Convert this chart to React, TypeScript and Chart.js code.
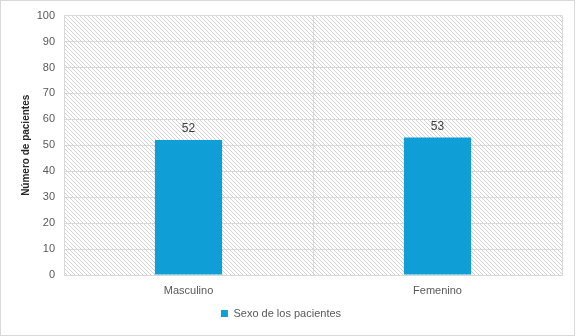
import React, { useEffect, useRef } from "react";
import { Chart, registerables } from "chart.js";

Chart.register(...registerables);

const categories = ["Masculino", "Femenino"];
const values = [52, 53];
const seriesName = "Sexo de los pacientes";
const yTitle = "Número de pacientes";
const yMin = 0;
const yMax = 100;
const yStep = 10;

const FONT = "'Liberation Sans', Arial, sans-serif";
const TEXT = "#595959";
const GRID = "#d9d9d9";
const BAR = "#109ed6";

function makePattern(ctx: CanvasRenderingContext2D) {
  const c = document.createElement("canvas");
  c.width = 4;
  c.height = 4;
  const p = c.getContext("2d")!;
  p.fillStyle = "#ffffff";
  p.fillRect(0, 0, 4, 4);
  p.fillStyle = "#d2d2d2";
  for (let i = 0; i < 4; i++) p.fillRect(i, i, 1, 1);
  return ctx.createPattern(c, "repeat")!;
}

const bgPlugin = {
  id: "bgPlugin",
  beforeDraw(chart: any) {
    const { ctx, chartArea, width, height } = chart;
    ctx.save();
    ctx.fillStyle = "#ffffff";
    ctx.fillRect(0, 0, width, height);
    ctx.strokeStyle = GRID;
    ctx.lineWidth = 1;
    ctx.strokeRect(0.5, 0.5, width - 2, height - 1);
    ctx.fillStyle = makePattern(ctx);
    ctx.fillRect(chartArea.left, chartArea.top, chartArea.right - chartArea.left, chartArea.bottom - chartArea.top);
    ctx.restore();
  },
  afterDraw(chart: any) {
    const { ctx, chartArea } = chart;
    ctx.save();
    ctx.translate(26, (chartArea.top + chartArea.bottom) / 2);
    ctx.rotate(-Math.PI / 2);
    ctx.fillStyle = "#262626";
    ctx.font = `bold 10px ${FONT}`;
    ctx.textAlign = "center";
    ctx.textBaseline = "middle";
    ctx.fillText(yTitle, 0, 0);
    ctx.restore();
  },
  afterDatasetsDraw(chart: any) {
    const { ctx } = chart;
    const meta = chart.getDatasetMeta(0);
    ctx.save();
    ctx.fillStyle = "#404040";
    ctx.font = `12px ${FONT}`;
    ctx.textAlign = "center";
    ctx.textBaseline = "bottom";
    meta.data.forEach((el: any, i: number) => {
      ctx.fillText(String(chart.data.datasets[0].data[i]), el.x, el.y - 5);
    });
    ctx.restore();
  },
};

export default function App() {
  const ref = useRef<HTMLCanvasElement>(null);
  useEffect(() => {
    document.body.style.margin = "0";
    const chart = new Chart(ref.current!, {
      type: "bar",
      data: {
        labels: categories,
        datasets: [
          {
            label: seriesName,
            data: values,
            backgroundColor: BAR,
            borderWidth: 0,
            barPercentage: 0.27,
            categoryPercentage: 1,
          },
        ],
      },
      options: {
        animation: false,
        responsive: false,
        devicePixelRatio: 1,
        layout: { padding: { left: 0, top: 9, right: 14, bottom: 7 } },
        plugins: {
          tooltip: { enabled: false },
          legend: {
            position: "bottom",
            labels: {
              color: TEXT,
              font: { family: FONT, size: 11 },
              boxWidth: 7,
              boxHeight: 7,
              padding: 10,
            },
          },
        },
        scales: {
          x: {
            grid: { color: GRID, drawTicks: false, offset: true },
            border: { color: GRID },
            ticks: { color: TEXT, font: { family: FONT, size: 11 }, padding: 9 },
            afterFit(scale: any) {
              scale.height = 23;
            },
          },
          y: {
            min: yMin,
            max: yMax,
            grid: { color: GRID, drawTicks: false },
            border: { display: false },
            ticks: { stepSize: yStep, color: TEXT, font: { family: FONT, size: 11 }, padding: 9 },
            title: { display: false },
            afterFit(scale: any) {
              scale.width = 64;
            },
          },
        },
      },
      plugins: [bgPlugin],
    });
    return () => chart.destroy();
  }, []);
  return (
    <div style={{ width: 576, height: 336 }}>
      <canvas ref={ref} width={576} height={336} style={{ display: "block" }} />
    </div>
  );
}
